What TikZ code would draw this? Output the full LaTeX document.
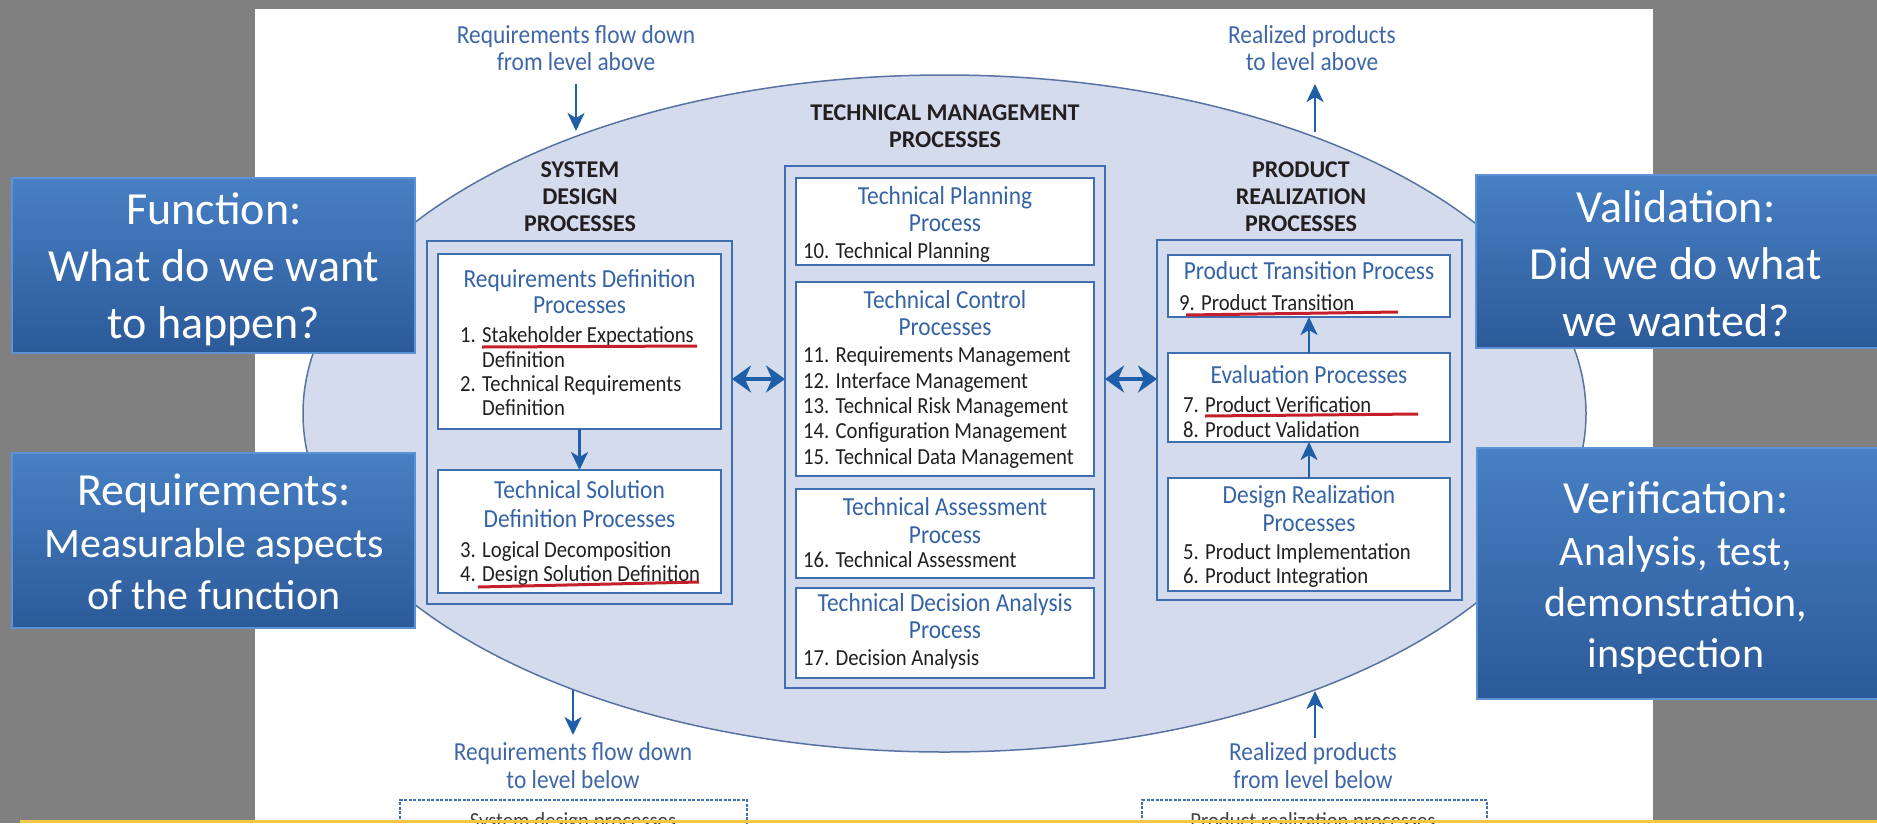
\documentclass[tikz,border=0pt]{standalone}
\usepackage{fontspec}
\setmainfont{Carlito}
\newfontfamily\condfont[FakeStretch=0.9]{Carlito}
\usetikzlibrary{shapes.geometric,arrows.meta}

\definecolor{slidegray}{HTML}{808080}
\definecolor{enginefill}{HTML}{D4DBEC}
\definecolor{engineedge}{HTML}{5873A3}
\definecolor{boxedge}{HTML}{3F6FB0}
\definecolor{headblue}{HTML}{3463A6}
\definecolor{labelblue}{HTML}{3F67A8}
\definecolor{arrowblue}{HTML}{1F5EA8}
\definecolor{ink}{HTML}{231F20}
\definecolor{markred}{HTML}{C51F2B}
\definecolor{calltop}{HTML}{4780C4}
\definecolor{callbot}{HTML}{2C5A99}
\definecolor{calledge}{HTML}{5E92D6}
\definecolor{baryellow}{HTML}{F2C744}

\begin{document}
\begin{tikzpicture}[x=1pt,y=-1pt,
  groupbox/.style={draw=boxedge,line width=2pt,inner sep=0pt,outer sep=0pt},
  procbox/.style={draw=boxedge,line width=2pt,fill=white,inner sep=0pt,outer sep=0pt},
  heading/.style={anchor=base,text=headblue,inner sep=0pt,font=\condfont\fontsize{26}{27}\selectfont},
  item/.style={anchor=base west,text=ink,inner sep=0pt,font=\condfont\fontsize{23}{25}\selectfont},
  title/.style={anchor=base,text=ink,inner sep=0pt,font=\bfseries\fontsize{24}{28}\selectfont},
  flowlabel/.style={anchor=base,text=labelblue,inner sep=0pt,font=\condfont\fontsize{26}{27}\selectfont},
  flow/.style={draw=arrowblue,line width=2.6pt,-{Stealth[length=18pt,width=17pt,inset=5pt]}},
  link/.style={draw=arrowblue,line width=4pt,{Stealth[length=19pt,width=27pt,inset=6pt]}-{Stealth[length=19pt,width=27pt,inset=6pt]}},
  redmark/.style={draw=markred,line width=3pt},
  dashbox/.style={draw=boxedge,line width=1.8pt,dash pattern=on 3pt off 1.5pt,inner sep=0pt,outer sep=0pt},
  callout/.style={draw=calledge,line width=1.5pt,top color=calltop,bottom color=callbot,inner sep=0pt,outer sep=0pt},
  callbig/.style={anchor=base,text=white,inner sep=0pt,font=\fontsize{46}{50}\selectfont},
  callsmall/.style={anchor=base,text=white,inner sep=0pt,font=\fontsize{42}{46}\selectfont},
  lowtext/.style={anchor=base,text=ink!85,inner sep=0pt,font=\condfont\fontsize{23}{25}\selectfont}
]
\useasboundingbox (0,0) rectangle (1877,823);
\clip (0,0) rectangle (1877,823);

% slide background and the white figure panel
\fill[slidegray] (0,0) rectangle (1877,823);
\fill[white] (255,9) rectangle (1653,823);

% the engine ellipse
\node[ellipse,draw=engineedge,fill=enginefill,line width=1.5pt,inner sep=0pt,outer sep=0pt,
      minimum width=1283,minimum height=677] (engine) at (944.5,413.5) {};

% flows to and from the levels above and below
\node[flowlabel] (inA1) at (576,43) {Requirements flow down};
\node[flowlabel] (inA2) at (576,70) {from level above};
\node[flowlabel] (outA1) at (1312,43) {Realized products};
\node[flowlabel] (outA2) at (1312,70) {to level above};
\node[flowlabel] (outB1) at (573,760) {Requirements flow down};
\node[flowlabel] (outB2) at (573,788) {to level below};
\node[flowlabel] (inB1) at (1313,760) {Realized products};
\node[flowlabel] (inB2) at (1313,788) {from level below};

\coordinate (inAtail) at (576,84);
\coordinate (inAtip) at (576,131);
\coordinate (outAtail) at (1315,132);
\coordinate (outAtip) at (1315,84);
\coordinate (outBtail) at (573,690);
\coordinate (outBtip) at (573,735);
\coordinate (inBtail) at (1315,738);
\coordinate (inBtip) at (1315,691);
\draw[flow] (inAtail) -- (inAtip);
\draw[flow] (outAtail) -- (outAtip);
\draw[flow] (outBtail) -- (outBtip);
\draw[flow] (inBtail) -- (inBtip);

% lower-level placeholders
\node[dashbox,anchor=north west,minimum width=347,minimum height=60] (sdlow) at (400,800) {};
\node[dashbox,anchor=north west,minimum width=345,minimum height=60] (prlow) at (1142,800) {};
\node[lowtext] (sdlowtext) at (573,828) {System design processes};
\node[lowtext] (prlowtext) at (1313,828) {Product realization processes};

% column titles
\node[title] (sdt1) at (580,177) {SYSTEM};
\node[title] (sdt2) at (580,204) {DESIGN};
\node[title] (sdt3) at (580,231) {PROCESSES};
\node[title] (tmt1) at (945,120) {TECHNICAL MANAGEMENT};
\node[title] (tmt2) at (945,147) {PROCESSES};
\node[title] (prt1) at (1301,177) {PRODUCT};
\node[title] (prt2) at (1301,204) {REALIZATION};
\node[title] (prt3) at (1301,231) {PROCESSES};

% group frames
\node[groupbox,minimum width=305,minimum height=363] (sdp) at (579.5,422.5) {};
\node[groupbox,minimum width=320,minimum height=522] (tmp) at (945,427) {};
\node[groupbox,minimum width=305,minimum height=360] (prp) at (1309.5,420) {};

% system design processes
\node[procbox,minimum width=283,minimum height=175] (rdp) at (579.5,341.5) {};
\node[procbox,minimum width=283,minimum height=123] (tsd) at (579.5,531.5) {};
\node[heading] (rdh1) at (579.5,287) {Requirements Definition};
\node[heading] (rdh2) at (579.5,313) {Processes};
\node[item] (rdi1) at (460,342) {\makebox[22pt][l]{1.}Stakeholder Expectations};
\node[item] (rdi2) at (482,367) {Definition};
\node[item] (rdi3) at (460,391) {\makebox[22pt][l]{2.}Technical Requirements};
\node[item] (rdi4) at (482,415) {Definition};
\node[heading] (tsh1) at (579.5,498) {Technical Solution};
\node[heading] (tsh2) at (579.5,527) {Definition Processes};
\node[item] (tsi1) at (460,557) {\makebox[22pt][l]{3.}Logical Decomposition};
\node[item] (tsi2) at (460,581) {\makebox[22pt][l]{4.}Design Solution Definition};

% technical management processes
\node[procbox,minimum width=298,minimum height=87] (tpp) at (945,221.5) {};
\node[procbox,minimum width=298,minimum height=194] (tcp) at (945,379) {};
\node[procbox,minimum width=298,minimum height=89] (tap) at (945,533.5) {};
\node[procbox,minimum width=298,minimum height=90] (tdp) at (945,633) {};
\node[heading] (tph1) at (945,204) {Technical Planning};
\node[heading] (tph2) at (945,231) {Process};
\node[item] (tpi1) at (803,258) {10. Technical Planning};
\node[heading] (tch1) at (945,308) {Technical Control};
\node[heading] (tch2) at (945,335) {Processes};
\node[item] (tci1) at (803,362) {11. Requirements Management};
\node[item] (tci2) at (803,388) {12. Interface Management};
\node[item] (tci3) at (803,413) {13. Technical Risk Management};
\node[item] (tci4) at (803,438) {14. Configuration Management};
\node[item] (tci5) at (803,464) {15. Technical Data Management};
\node[heading] (tah1) at (945,515) {Technical Assessment};
\node[heading] (tah2) at (945,543) {Process};
\node[item] (tai1) at (803,567) {16. Technical Assessment};
\node[heading] (tdh1) at (945,611) {Technical Decision Analysis};
\node[heading] (tdh2) at (945,638) {Process};
\node[item] (tdi1) at (803,665) {17. Decision Analysis};

% product realization processes
\node[procbox,minimum width=282,minimum height=62] (ptp) at (1309,286) {};
\node[procbox,minimum width=282,minimum height=89] (evp) at (1309,397.5) {};
\node[procbox,minimum width=282,minimum height=113] (drp) at (1309,534.5) {};
\node[heading] (pth1) at (1309,279) {Product Transition Process};
\node[item] (pti1) at (1179,310) {9. Product Transition};
\node[heading] (evh1) at (1309,383) {Evaluation Processes};
\node[item] (evi1) at (1183,412) {7. Product Verification};
\node[item] (evi2) at (1183,437) {8. Product Validation};
\node[heading] (drh1) at (1309,503) {Design Realization};
\node[heading] (drh2) at (1309,531) {Processes};
\node[item] (dri1) at (1183,559) {5. Product Implementation};
\node[item] (dri2) at (1183,583) {6. Product Integration};

% process flow inside the columns
\draw[flow] (rdp.south) -- (tsd.north);
\draw[flow] (drp.north) -- (evp.south);
\draw[flow] (evp.north) -- (ptp.south);

% exchanges with technical management
\draw[link] (sdp.east |- tcp.center) -- (tmp.west |- tcp.center);
\draw[link] (tmp.east |- tcp.center) -- (prp.west |- tcp.center);

% hand-drawn red underlines
\draw[redmark] (482,347) -- (697,346);
\draw[redmark] (478,587) -- (699,582);
\draw[redmark] (1186,315) -- (1398,312);
\draw[redmark] (1205,416) -- (1418,414);

% slide callouts
\node[callout,minimum width=403,minimum height=175] (fnc) at (213.5,265.5) {};
\node[callbig] (fnc1) at (214,224) {Function:};
\node[callbig] (fnc2) at (214,281) {What do we want};
\node[callbig] (fnc3) at (214,338) {to happen?};

\node[callout,minimum width=403,minimum height=175] (req) at (213.5,540.5) {};
\node[callbig] (req1) at (214,505) {Requirements:};
\node[callsmall] (req2) at (214,557) {Measurable aspects};
\node[callsmall] (req3) at (214,609) {of the function};

\node[callout,minimum width=404,minimum height=173] (val) at (1678,261.5) {};
\node[callbig] (val1) at (1676,222) {Validation:};
\node[callbig] (val2) at (1676,279) {Did we do what};
\node[callbig] (val3) at (1676,336) {we wanted?};

\node[callout,minimum width=403,minimum height=251] (ver) at (1678.5,573.5) {};
\node[callbig] (ver1) at (1676,513) {Verification:};
\node[callsmall] (ver2) at (1676,565) {Analysis, test,};
\node[callsmall] (ver3) at (1676,616) {demonstration,};
\node[callsmall] (ver4) at (1676,667) {inspection};

% yellow rule along the bottom of the slide
\fill[baryellow] (20,820) rectangle (1877,823);
\end{tikzpicture}
\end{document}
